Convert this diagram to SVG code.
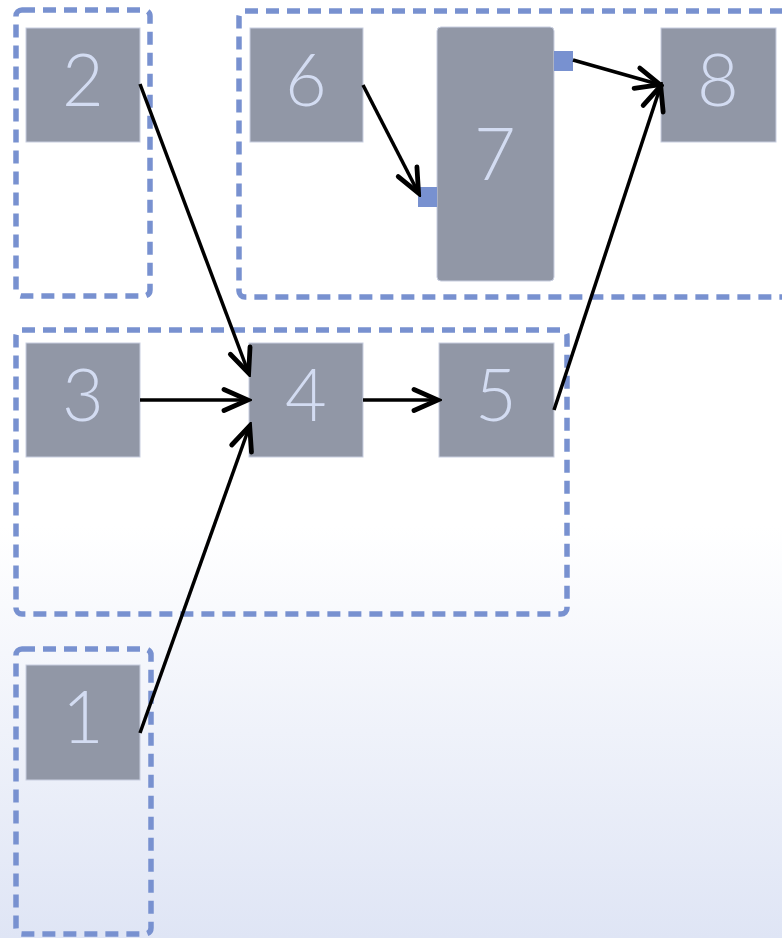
<svg xmlns="http://www.w3.org/2000/svg" width="782" height="938" viewBox="0 0 782 938">
<defs>
<linearGradient id="bg" x1="0" y1="0" x2="0" y2="1">
<stop offset="0" stop-color="#ffffff"/>
<stop offset="0.56" stop-color="#ffffff"/>
<stop offset="1" stop-color="#dfe5f5"/>
</linearGradient>
<marker id="arr" viewBox="0 0 32 28" refX="29" refY="14" markerWidth="32" markerHeight="28" markerUnits="userSpaceOnUse" orient="auto">
<path d="M4 3.5 L28 14 L4 24.5" fill="none" stroke="#000" stroke-width="4.8" stroke-linecap="round" stroke-linejoin="miter"/>
</marker>
<style>
.grp{fill:none;stroke:#7891d0;stroke-width:5.5;stroke-dasharray:13 8}
.node{fill:#9197a6;stroke:#c8cee0;stroke-width:1}
.lbl{font-family:"Lato","Open Sans","Liberation Sans",sans-serif;font-weight:300;font-size:72px;fill:#d3dcf2;text-anchor:middle}
.port{fill:#7891d0}
.edge{fill:none;stroke:#000;stroke-width:3.5;marker-end:url(#arr)}
</style>
</defs>
<rect x="0" y="0" width="782" height="938" fill="url(#bg)"/>
<g id="groups">
<rect class="grp" x="16" y="10" width="134" height="286" rx="6"/>
<rect class="grp" x="239" y="11" width="570" height="286" rx="6"/>
<rect class="grp" x="16" y="330" width="551" height="284" rx="6"/>
<rect class="grp" x="16" y="649" width="135" height="285" rx="6"/>
</g>
<g id="node2"><rect class="node" x="26" y="28" width="114" height="114"/><text class="lbl" x="83" y="106">2</text></g>
<g id="node6"><rect class="node" x="250" y="28" width="113" height="114"/><text class="lbl" x="306" y="106">6</text></g>
<g id="node7"><rect class="node" x="437" y="27" width="117" height="254" rx="4"/><text class="lbl" x="495" y="180">7</text>
<rect class="port" x="418" y="187" width="19" height="20"/>
<rect class="port" x="554" y="51" width="19" height="20"/></g>
<g id="node8"><rect class="node" x="661" y="28" width="115" height="114"/><text class="lbl" x="718" y="106">8</text></g>
<g id="node3"><rect class="node" x="26" y="343" width="114" height="114"/><text class="lbl" x="83" y="421">3</text></g>
<g id="node4"><rect class="node" x="249" y="343" width="114" height="114"/><text class="lbl" x="306" y="421">4</text></g>
<g id="node5"><rect class="node" x="439" y="343" width="115" height="114"/><text class="lbl" x="496" y="421">5</text></g>
<g id="node1"><rect class="node" x="26" y="665" width="114" height="115"/><text class="lbl" x="83" y="743">1</text></g>
<g id="connectors">
<line class="edge" x1="140" y1="84" x2="249" y2="374"/>
<line class="edge" x1="140" y1="400" x2="249" y2="400"/>
<line class="edge" x1="140" y1="733" x2="250" y2="425"/>
<line class="edge" x1="363" y1="400" x2="439" y2="400"/>
<line class="edge" x1="554" y1="410" x2="661" y2="85"/>
<line class="edge" x1="363" y1="85" x2="419" y2="194"/>
<line class="edge" x1="573" y1="60" x2="661" y2="85"/>
</g>
</svg>
